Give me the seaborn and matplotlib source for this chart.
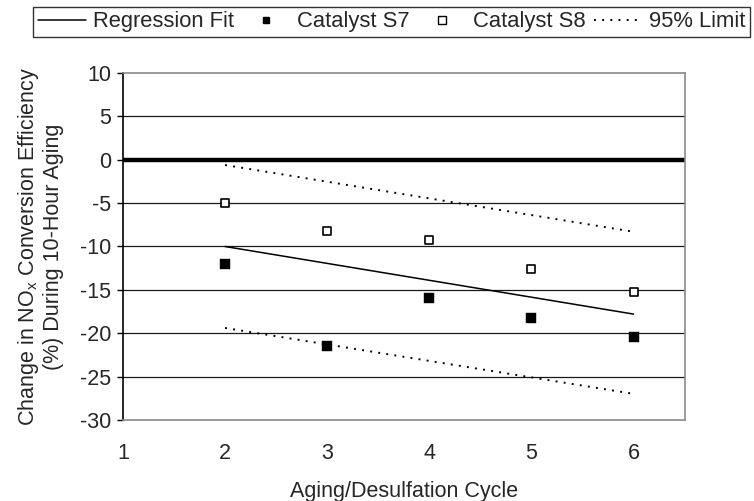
import matplotlib
matplotlib.use("Agg")
import matplotlib.pyplot as plt
import seaborn as sns
import pandas as pd
from matplotlib.lines import Line2D

cycles = [2, 3, 4, 5, 6]
s7 = [-12.05, -21.5, -16.0, -18.3, -20.5]
s8 = [-5.0, -8.2, -9.2, -12.6, -15.3]
fit_x = [2, 6]
fit_y = [-10.0, -17.8]
upper_y = [-0.6, -8.3]
lower_y = [-19.4, -27.0]
yticks = [10, 5, 0, -5, -10, -15, -20, -25, -30]
xticks = [1, 2, 3, 4, 5, 6]

sns.set_style("white")
plt.rcParams['font.family'] = ['Liberation Sans', 'DejaVu Sans']

FS = 15.5
DOT = (0, (1, 3.2))

fig = plt.figure(figsize=(7.54, 5.01), dpi=100)
ax = fig.add_axes([0.163, 0.162, 0.745, 0.692])

for y in yticks:
    if y in (10, -30, 0):
        continue
    ax.axhline(y, color='#1a1a1a', lw=0.9, zorder=1)
ax.axhline(0, color='black', lw=3.2, zorder=2)

fit_df = pd.DataFrame({'x': fit_x, 'y': fit_y})
up_df = pd.DataFrame({'x': fit_x, 'y': upper_y})
lo_df = pd.DataFrame({'x': fit_x, 'y': lower_y})
sns.lineplot(data=fit_df, x='x', y='y', ax=ax, color='black', lw=1.1, zorder=3)
sns.lineplot(data=up_df, x='x', y='y', ax=ax, color='black', lw=1.4, linestyle=DOT, zorder=3)
sns.lineplot(data=lo_df, x='x', y='y', ax=ax, color='black', lw=1.4, linestyle=DOT, zorder=3)

s7_df = pd.DataFrame({'x': cycles, 'y': s7})
s8_df = pd.DataFrame({'x': cycles, 'y': s8})
sns.scatterplot(data=s7_df, x='x', y='y', ax=ax, marker='s', s=42, color='black',
                edgecolor='black', linewidth=0.3, zorder=4)
sns.scatterplot(data=s8_df, x='x', y='y', ax=ax, marker='s', s=34, color='white',
                edgecolor='black', linewidth=1.2, zorder=4)

ax.set_xlim(1, 6.5)
ax.set_ylim(-30, 10)
ax.set_xticks(xticks)
ax.set_yticks(yticks)
ax.set_xticklabels([str(t) for t in xticks], fontsize=FS)
ax.set_yticklabels([str(t) for t in yticks], fontsize=FS)
ax.tick_params(axis='y', which='both', direction='out', length=4.5, width=1, color='black', left=True, pad=4)
ax.tick_params(axis='x', which='both', length=0, pad=17)

for side in ['top', 'right', 'bottom']:
    ax.spines[side].set_color('#8a8a8a')
    ax.spines[side].set_linewidth(1.2)
ax.spines['left'].set_color('black')
ax.spines['left'].set_linewidth(1.2)

ax.set_xlabel('Aging/Desulfation Cycle', fontsize=FS, labelpad=12)
ax.set_ylabel('Change in NO$_\\mathregular{x}$ Conversion Efficiency\n(%) During 10-Hour Aging',
              fontsize=FS, linespacing=1.15)
ax.yaxis.set_label_coords(-0.105, 0.5)

handles = [
    Line2D([], [], color='black', lw=1.1),
    Line2D([], [], color='black', marker='s', markersize=5, linestyle='None'),
    Line2D([], [], color='black', marker='s', markersize=5.5, markerfacecolor='white',
           markeredgewidth=1.0, linestyle='None'),
    Line2D([], [], color='black', lw=1.4, linestyle=DOT),
]
labels = ['Regression Fit', 'Catalyst S7', 'Catalyst S8', '95% Limit']
leg = fig.legend(handles, labels, loc='upper left', bbox_to_anchor=(0.044, 0.986), ncol=4,
                 fontsize=15.8, frameon=True, fancybox=False, edgecolor='black',
                 handlelength=2.2, handletextpad=0.32, columnspacing=0.36, borderpad=0.2,
                 borderaxespad=0)
leg.get_frame().set_linewidth(1.0)

fig.savefig('out.png', dpi=100)
